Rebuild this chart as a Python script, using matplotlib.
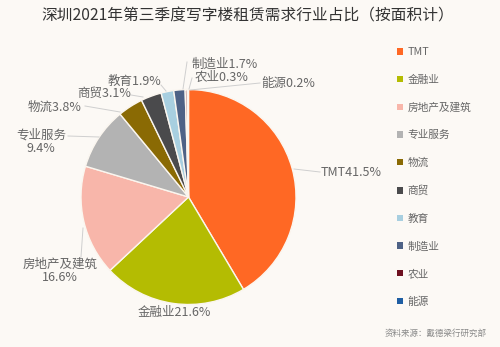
import matplotlib
matplotlib.use("Agg")
import matplotlib.pyplot as plt
import numpy as np

plt.rcParams['font.family'] = ['Noto Sans CJK SC', 'DejaVu Sans']

title = "深圳2021年第三季度写字楼租赁需求行业占比（按面积计）"
categories = ["TMT", "金融业", "房地产及建筑", "专业服务", "物流", "商贸", "教育", "制造业", "农业", "能源"]
values = [41.5, 21.6, 16.6, 9.4, 3.8, 3.1, 1.9, 1.7, 0.3, 0.2]
colors = ["#ff6824", "#b4bc02", "#f8b6aa", "#b3b3b3", "#8a6a04", "#4a4a4c",
          "#a8cfe0", "#4e6286", "#6e1020", "#1f5ea3"]
source = "资料来源：戴德梁行研究部"

W, H = 500, 347
bg = "#fcf9f5"
fig = plt.figure(figsize=(W / 100, H / 100), dpi=100, facecolor=bg)
ax = fig.add_axes([0, 0, 1, 1])
ax.set_facecolor(bg)

cx, cy, R = 188.5, H - 197, 107.5
wedges, _ = ax.pie(values, colors=colors, startangle=90, counterclock=False,
                   center=(cx, cy), radius=R, frame=True,
                   wedgeprops=dict(edgecolor="#fbf6ef", linewidth=1.0))
ax.set_xlim(0, W)
ax.set_ylim(0, H)
ax.axis("off")

def P(x, y):
    return (x, H - y)

lc = "#cfcfcf"
tc = "#666666"
fs = 9.0
# label text: (text, x, y (from top), ha, line points)
labels = [
    ("TMT41.5%", 321, 172, "left", [(294, 169), (320, 172)]),
    ("金融业21.6%", 174, 312, "center", None),
    ("房地产及建筑\n16.6%", 60, 271, "center", [(83, 228), (81, 257)]),
    ("专业服务\n9.4%", 41, 142, "center", [(68, 136), (99, 137)]),
    ("物流3.8%", 55, 107, "center", [(85, 106), (120, 112)]),
    ("商贸3.1%", 104, 93, "center", [(131, 95), (143, 97)]),
    ("教育1.9%", 134, 81, "center", [(161, 85), (166, 91)]),
    ("制造业1.7%", 225, 64, "center", [(183, 89), (187, 62)]),
    ("农业0.3%", 222, 77, "center", [(189, 89), (192, 78)]),
    ("能源0.2%", 288, 83, "center", [(190, 90), (260, 83)]),
]
for txt, x, y, ha, pts in labels:
    ax.text(*P(x, y), txt, ha=ha, va="center", fontsize=fs, color=tc,
            linespacing=1.0)
    if pts:
        xs = [p[0] for p in pts]
        ys = [H - p[1] for p in pts]
        ax.plot(xs, ys, color=lc, lw=0.7)

ax.text(*P(248, 16), title, ha="center", va="center", fontsize=11.3, color="#333333")
ax.text(*P(436, 333), source, ha="center", va="center", fontsize=6.1, color="#8a8a8a")

leg = ax.legend(wedges, categories, loc="upper left",
                bbox_to_anchor=(392 / W, 1 - 42 / H), frameon=False,
                fontsize=7.7, handlelength=0.55, handleheight=0.55,
                handletextpad=0.4, labelspacing=1.63, borderpad=0)
for t in leg.get_texts():
    t.set_color(tc)
for h in leg.legend_handles:
    h.set_edgecolor("none")

fig.savefig("out.png", dpi=100, facecolor=bg)
